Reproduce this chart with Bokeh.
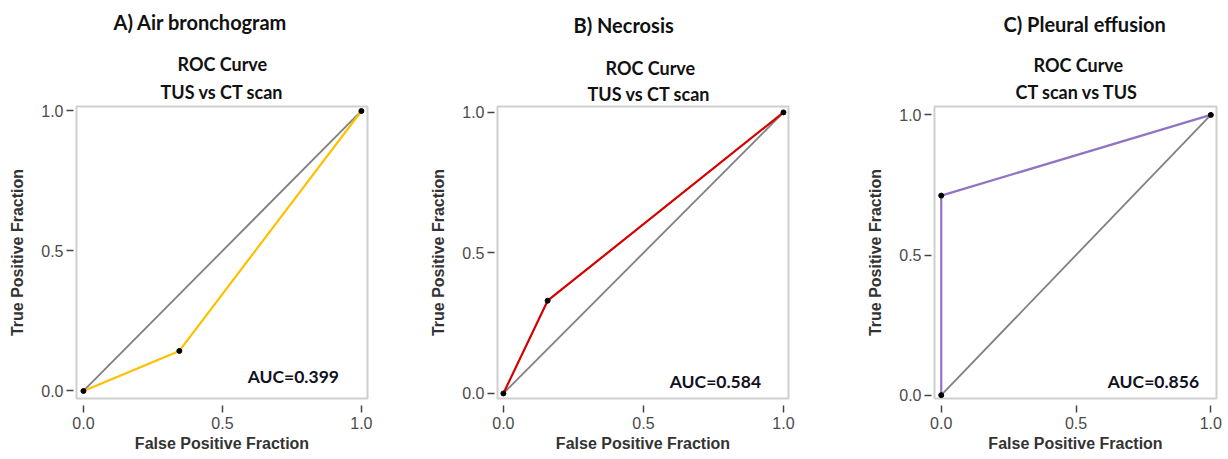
from bokeh.plotting import figure
from bokeh.layouts import row
from bokeh.models import Range1d, FixedTicker, PrintfTickFormatter, Title, Label
from bokeh.embed import file_html
from bokeh.resources import INLINE

# ---- data ----
panel_titles = ["A) Air bronchogram", "B) Necrosis", "C) Pleural effusion"]
sub_titles = ["TUS vs CT scan", "TUS vs CT scan", "CT scan vs TUS"]
fpr_a = [0.0, 0.345, 1.0]
tpr_a = [0.0, 0.143, 1.0]
fpr_b = [0.0, 0.158, 1.0]
tpr_b = [0.0, 0.330, 1.0]
fpr_c = [0.0, 0.0, 1.0]
tpr_c = [0.0, 0.712, 1.0]
diag = [0.0, 1.0]
auc = [0.399, 0.584, 0.856]
ticks = [0.0, 0.5, 1.0]

colors = ["#FFC000", "#D40000", "#9273C4"]

TITLE_FONT = "Lato"
AX_FONT = "Liberation Sans"


def title_props(size):
    return dict(text_font=TITLE_FONT, text_font_style="bold", text_font_size=size,
                text_color="#111111")


def make_panel(i, fpr, tpr, width, bl, br, xr, yr, offs, sub_st, gap, auc_xy):
    p = figure(width=width, height=459, output_backend="svg", toolbar_location=None,
               x_range=Range1d(*xr), y_range=Range1d(*yr),
               min_border_left=bl, min_border_right=br, min_border_top=106, min_border_bottom=61,
               title=panel_titles[i])
    # outermost: the panel title
    p.title.align = "left"
    p.title.vertical_align = "top"
    p.title.offset = offs[0]
    p.title.standoff = 0
    for k, v in title_props("20px").items():
        setattr(p.title, k, v)
    # closest to the frame: sub title, then "ROC Curve", then a blank gap line
    p.add_layout(Title(text=sub_titles[i], align="left", offset=offs[2], standoff=sub_st,
                       **title_props("18px")), "above")
    p.add_layout(Title(text="ROC Curve", align="left", offset=offs[1], standoff=0,
                       **title_props("18px")), "above")
    p.add_layout(Title(text=" ", align="left", standoff=gap[1], **title_props(gap[0])), "above")

    p.xgrid.visible = False
    p.ygrid.visible = False
    p.outline_line_color = "#CFCFCF"
    p.outline_line_width = 2
    p.background_fill_color = "white"
    p.border_fill_color = "white"

    for ax in (p.xaxis[0], p.yaxis[0]):
        ax.ticker = FixedTicker(ticks=ticks)
        ax.formatter = PrintfTickFormatter(format="%.1f")
        ax.axis_line_color = None
        ax.minor_tick_line_color = None
        ax.major_tick_line_color = "#444444"
        ax.major_tick_line_width = 1.5
        ax.major_label_text_font = AX_FONT
        ax.major_label_text_font_size = "16px"
        ax.major_label_text_color = "#4a4a4a"
        ax.axis_label_text_font = AX_FONT
        ax.axis_label_text_font_style = "bold"
        ax.axis_label_text_font_size = "16px"
        ax.axis_label_text_color = "#333333"
    p.xaxis.axis_label = "False Positive Fraction"
    p.yaxis.axis_label = "True Positive Fraction"
    p.xaxis.major_tick_in = -7
    p.xaxis.major_tick_out = 14
    p.xaxis.major_label_standoff = 4
    p.xaxis.axis_label_standoff = 3
    p.yaxis.major_tick_in = -3
    p.yaxis.major_tick_out = 10
    p.yaxis.major_label_standoff = 3
    p.yaxis.axis_label_standoff = 12

    p.line(diag, diag, line_color="#808080", line_width=1.8)
    p.line(fpr, tpr, line_color=colors[i], line_width=2.2)
    p.scatter(fpr, tpr, size=5, color="black")

    p.add_layout(Label(x=auc_xy[0], y=auc_xy[1], text="AUC=%.3f" % auc[i],
                       text_align="center", text_baseline="middle",
                       text_font=TITLE_FONT, text_font_style="bold", text_font_size="17.5px",
                       text_color="#111122"))
    return p


# frames: A x 76..367, B x 497..788, C x 934..1216; y 106..398 for all
pa = make_panel(0, fpr_a, tpr_a, 425, 76, 58, (-0.025, 1.022), (-0.027, 1.016),
                (37, 101, 84), 8, ("10.5px", 1), (0.755, 0.051))
pb = make_panel(1, fpr_b, tpr_b, 437, 72, 74, (-0.021, 1.018), (-0.018, 1.021),
                (76, 108, 90), 4, ("10.5px", 2), (0.757, 0.043))
pc = make_panel(2, fpr_c, tpr_c, 366, 72, 12, (-0.025, 1.021), (-0.012, 1.030),
                (69, 99, 81), 7, ("9px", 1), (0.787, 0.049))

layout = row(pa, pb, pc, spacing=0)
open("out.html", "w").write(file_html(layout, INLINE))
